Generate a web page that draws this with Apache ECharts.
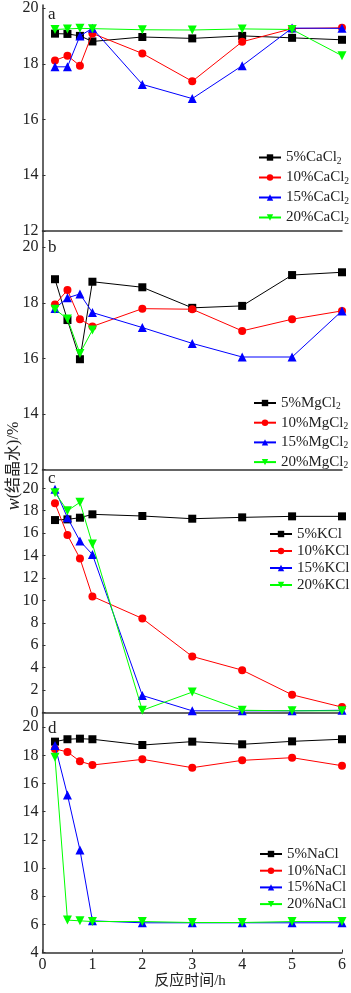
<!DOCTYPE html>
<html>
<head>
<meta charset="utf-8">
<script src="https://cdn.jsdelivr.net/npm/echarts@6/dist/echarts.min.js"></script>
<style>html,body{margin:0;padding:0;background:#fff}#c{width:351px;height:993px}</style>
</head>
<body>
<div id="c"></div>
<script>
// ---------- data ----------
const times = [0.25, 0.5, 0.75, 1, 2, 3, 4, 5, 6];
const xTicks = [0, 1, 2, 3, 4, 5, 6];

// panel a: CaCl2
const caNames = ['5%CaCl2', '10%CaCl2', '15%CaCl2', '20%CaCl2'];
const ca5  = [19.08, 19.07, 19.00, 18.80, 18.96, 18.91, 19.00, 18.93, 18.86];
const ca10 = [18.12, 18.29, 17.93, 19.09, 18.37, 17.37, 18.79, 19.26, 19.29];
const ca15 = [17.89, 17.89, 19.00, 19.27, 17.26, 16.75, 17.93, 19.28, 19.27];
const ca20 = [19.23, 19.25, 19.27, 19.26, 19.22, 19.21, 19.25, 19.23, 18.29];
const caTicks = [12, 14, 16, 18, 20];

// panel b: MgCl2
const mgNames = ['5%MgCl2', '10%MgCl2', '15%MgCl2', '20%MgCl2'];
const mg5  = [18.85, 17.38, 15.97, 18.76, 18.56, 17.82, 17.89, 19.00, 19.10];
const mg10 = [17.94, 18.46, 17.41, 17.15, 17.79, 17.77, 16.99, 17.41, 17.71];
const mg15 = [17.80, 18.18, 18.32, 17.65, 17.11, 16.54, 16.05, 16.05, 17.71];
const mg20 = [17.77, 17.42, 16.18, 17.02];
const mgTicks = [12, 14, 16, 18, 20];

// panel c: KCl
const kNames = ['5%KCl', '10%KCl', '15%KCl', '20%KCl'];
const k5  = [17.17, 17.23, 17.38, 17.68, 17.53, 17.29, 17.41, 17.50, 17.50];
const k10 = [18.66, 15.83, 13.75, 10.36, 8.39, 5.00, 3.78, 1.58, 0.48];
const k15 = [19.91, 17.38, 15.30, 14.10, 1.52, 0.15, 0.15, 0.15, 0.20];
const k20 = [19.61, 18.00, 18.75, 15.03, 0.20, 1.82, 0.20, 0.15, 0.15];
const kTicks = [0, 2, 4, 6, 8, 10, 12, 14, 16, 18, 20];

// panel d: NaCl
const naNames = ['5%NaCl', '10%NaCl', '15%NaCl', '20%NaCl'];
const na5  = [18.98, 19.15, 19.19, 19.15, 18.74, 18.98, 18.79, 19.00, 19.15];
const na10 = [18.46, 18.25, 17.58, 17.32, 17.72, 17.13, 17.65, 17.84, 17.27];
const na15 = [18.70, 15.19, 11.28, 6.25, 6.11, 6.11, 6.11, 6.11, 6.11];
const na20 = [17.87, 6.30, 6.25, 6.20, 6.20, 6.13, 6.13, 6.20, 6.20];
const naTicks = [4, 6, 8, 10, 12, 14, 16, 18, 20];

const panelLetters = ['a', 'b', 'c', 'd'];
const yTitle = '(结晶水)/%';
const xTitle = '反应时间/h';

// ---------- layout ----------
const FONT = '"Liberation Serif", "Times New Roman", serif';
const CJK = '"Liberation Serif", "Noto Sans CJK SC", serif';
const LEFT = 42.5, RIGHT = 9;
const panels = [
  {names: caNames, vals: [ca5, ca10, ca15, ca20], ticks: caTicks, top: 5,     h: 226,   min: 12, max: 20.108, legTop: 149,   legLeft: 258, gap: 3},
  {names: mgNames, vals: [mg5, mg10, mg15, mg20], ticks: mgTicks, top: 231,   h: 238.5, min: 12, max: 20.586, legTop: 394.5, legLeft: 253, gap: 2.7},
  {names: kNames,  vals: [k5, k10, k15, k20],     ticks: kTicks,  top: 469.5, h: 243,   min: 0,  max: 21.68,  legTop: 526.5, legLeft: 269, gap: 2},
  {names: naNames, vals: [na5, na10, na15, na20], ticks: naTicks, top: 712.5, h: 240,   min: 4,  max: 21.05,  legTop: 846.5, legLeft: 259, gap: 1.7}
];
const colors = ['#000000', '#ff0000', '#0000ff', '#00ff00'];
const symbols = ['rect', 'circle', 'triangle', 'path://M0,0 L10,0 L5,9 Z'];
const symSizes = [8, 8, 9, 9];
const AX = '#333';

const grid = [], xAxis = [], yAxis = [], series = [], legend = [], graphic = [];
panels.forEach((p, gi) => {
  grid.push({left: LEFT, right: RIGHT, top: p.top, height: p.h});
  const last = gi === panels.length - 1;
  xAxis.push({
    type: 'value', gridIndex: gi, min: 0, max: 6, interval: 1,
    axisLine: {show: true, onZero: false, lineStyle: {color: AX, width: 1.5}},
    axisTick: {show: last, inside: true, length: 3, customValues: xTicks, lineStyle: {color: AX}},
    axisLabel: {show: last, customValues: xTicks, color: '#222', fontFamily: FONT, fontSize: 16, margin: 4},
    splitLine: {show: false}
  });
  yAxis.push({
    type: 'value', gridIndex: gi, min: p.min, max: p.max,
    axisLine: {show: true, onZero: false, lineStyle: {color: AX, width: 1.5}},
    axisTick: {show: true, inside: true, length: 3, customValues: p.ticks, lineStyle: {color: AX}},
    axisLabel: {show: true, customValues: p.ticks, color: '#222', fontFamily: FONT, fontSize: 16, margin: 4},
    splitLine: {show: false}
  });
  p.names.forEach((nm, si) => {
    series.push({
      name: nm, type: 'line', xAxisIndex: gi, yAxisIndex: gi,
      data: p.vals[si].map((v, i) => [times[i], v]),
      symbol: symbols[si], symbolSize: symSizes[si], showAllSymbol: true,
      color: colors[si],
      lineStyle: {width: 1, color: colors[si]},
      itemStyle: {color: colors[si]},
      z: 2 + si,
      animation: false
    });
  });
  legend.push({
    data: p.names, left: p.legLeft, top: p.legTop, orient: 'vertical',
    itemWidth: 22, itemHeight: 8, itemGap: p.gap, padding: 0,
    textStyle: {fontFamily: FONT, fontSize: 15, color: '#222', lineHeight: 15,
      rich: {sub: {fontFamily: FONT, fontSize: 9.5, lineHeight: 15, padding: [7, 0, 0, 0], color: '#222'}}},
    formatter: n => n.replace(/Cl2$/, 'Cl{sub|2}'),
    selectedMode: false
  });
  graphic.push({type: 'text', left: 48, top: p.top + (gi === 0 ? 1 : gi === 2 ? 1 : 8),
    style: {text: panelLetters[gi], font: '17px ' + FONT, fill: '#222'}});
});

graphic.push({type: 'text', x: 14, y: 466, rotation: Math.PI / 2,
  style: {text: '{i|w}' + yTitle, align: 'center', verticalAlign: 'middle',
    font: '16px ' + CJK, fill: '#222',
    rich: {i: {fontStyle: 'italic', fontFamily: FONT, fontSize: 18, fill: '#222'}}}});
graphic.push({type: 'text', x: 190, y: 981,
  style: {text: xTitle, align: 'center', verticalAlign: 'middle',
    font: '15px ' + CJK, fill: '#222'}});

const chart = echarts.init(document.getElementById('c'), null, {renderer: 'canvas'});
chart.setOption({animation: false, backgroundColor: '#fff', grid, xAxis, yAxis, series, legend, graphic});
</script>
</body>
</html>
